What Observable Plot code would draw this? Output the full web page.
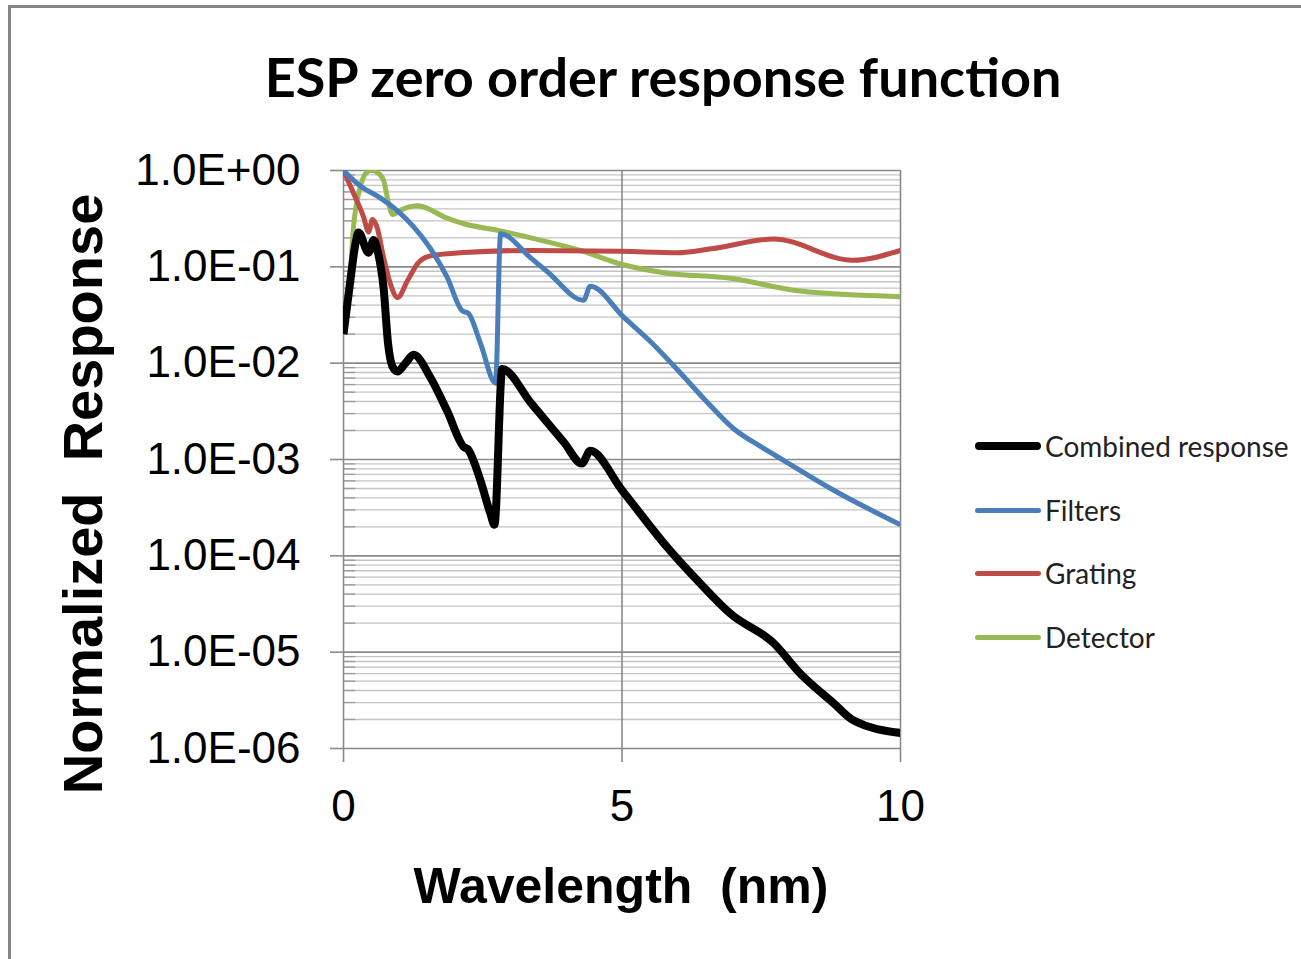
<!DOCTYPE html>
<html>
<head>
<meta charset="utf-8">
<script src="https://cdn.jsdelivr.net/npm/d3@7"></script>
<script src="https://cdn.jsdelivr.net/npm/@observablehq/plot@0.6"></script>
<style>
  html, body { margin: 0; padding: 0; background: #fff; }
  #wrap { position: relative; width: 1301px; height: 959px; overflow: hidden; background: #fff; }
  #frame { position: absolute; left: 8px; top: 5px; width: 1400px; height: 1100px; border: 3px solid #868686; box-sizing: border-box; }
  #title { position: absolute; left: 0; width: 1326px; top: 44px; text-align: center; font-family: Lato, "Open Sans", sans-serif; font-weight: bold; font-size: 54px; color: #000; white-space: nowrap; }
  #ylab { position: absolute; left: 82px; top: 494px; transform: translate(-50%, -50%) rotate(-90deg); font-family: "Liberation Sans", Arial, sans-serif; font-weight: bold; font-size: 56px; white-space: pre; color: #000; }
  #xlab { position: absolute; left: 621px; top: 886px; transform: translate(-50%, -50%); font-family: "Liberation Sans", Arial, sans-serif; font-weight: bold; font-size: 50px; white-space: pre; color: #000; }
  #chart { position: absolute; left: 0; top: 0; }
  #legend { position: absolute; left: 975px; top: 0; font-family: Lato, "Open Sans", sans-serif; font-size: 28px; color: #222; }
  .item { position: absolute; left: 0; display: flex; align-items: center; white-space: nowrap; transform: translateY(-50%); }
  .swatch { width: 66px; border-radius: 4px; margin-right: 4px; }
</style>
</head>
<body>
<div id="wrap">
  <div id="frame"></div>
  <div id="chart"></div>
  <div id="title">ESP zero order response function</div>
  <div id="ylab">Normalized  Response</div>
  <div id="xlab">Wavelength  (nm)</div>
  <div id="legend"></div>
</div>
<script>
// ---- data (wavelength nm, normalized response) ----
const seriesNames = ["Combined response", "Filters", "Grating", "Detector"];
const seriesColors = ["#000000", "#4a7ebb", "#be4b48", "#98b954"];
const seriesWidths = [8, 5, 5, 5];

const combined = [
  [0, 0.02], [0.12, 0.07], [0.22, 0.18], [0.27, 0.227], [0.45, 0.14], [0.54, 0.19],
  [0.62, 0.14], [0.72, 0.06], [0.8, 0.016], [0.88, 0.0092], [0.97, 0.0082],
  [1.1, 0.0098], [1.26, 0.0122], [1.56, 0.0071], [1.86, 0.0032], [2.16, 0.00135],
  [2.23, 0.00128], [2.46, 0.0006], [2.64, 0.00027], [2.71, 0.00021], [2.85, 0.0087],
  [3.36, 0.0039], [3.96, 0.0015], [4.28, 0.00091], [4.43, 0.00123], [5.0, 0.00048],
  [5.81, 0.000123], [6.41, 0.0000513], [6.95, 0.000025], [7.73, 0.0000123],
  [8.2, 0.000006], [8.8, 0.00000295], [9.16, 0.00000195], [10, 0.00000145]
];
const filters = [
  [0, 1.0], [0.3, 0.69], [0.66, 0.52], [0.97, 0.38], [1.26, 0.26], [1.56, 0.155],
  [1.86, 0.078], [2.13, 0.035], [2.24, 0.033], [2.46, 0.016], [2.73, 0.0062],
  [2.82, 0.22], [3.36, 0.124], [3.66, 0.089], [4.31, 0.045], [4.43, 0.063],
  [5.03, 0.03], [5.5, 0.017], [6.0, 0.0085], [6.5, 0.0041], [7.0, 0.0021],
  [7.5, 0.00135], [7.9, 0.00098], [8.8, 0.00048], [10, 0.00021]
];
const grating = [
  [0, 1.0], [0.18, 0.58], [0.36, 0.33], [0.45, 0.23], [0.52, 0.31], [0.6, 0.26],
  [0.72, 0.125], [0.84, 0.067], [0.97, 0.048], [1.15, 0.072], [1.33, 0.108],
  [1.56, 0.13], [2.16, 0.141], [3.36, 0.148], [5.0, 0.145], [6.0, 0.14],
  [6.64, 0.155], [7.72, 0.195], [9.14, 0.117], [10, 0.148]
];
const detector = [
  [0, 0.02], [0.1, 0.053], [0.18, 0.26], [0.3, 0.67], [0.42, 0.96], [0.5, 1.0],
  [0.6, 0.96], [0.72, 0.79], [0.81, 0.45], [0.88, 0.35], [1.08, 0.4], [1.33, 0.43],
  [1.86, 0.32], [2.16, 0.28], [2.76, 0.24], [3.36, 0.2], [4.25, 0.148],
  [4.97, 0.107], [5.75, 0.087], [6.95, 0.076], [8.2, 0.056], [10, 0.049]
];
const xTicks = [0, 5, 10];
const yMajor = [1, 1e-1, 1e-2, 1e-3, 1e-4, 1e-5, 1e-6];

// ---- build ----
const allSeries = [combined, filters, grating, detector];
const rows = allSeries.flatMap((s, i) => s.map(([x, y]) => ({series: seriesNames[i], x, y})));
const yMinor = [];
for (let e = -6; e < 0; e++) for (let m = 2; m <= 9; m++) yMinor.push(m * Math.pow(10, e));
const fmt = d => { const e = Math.round(Math.log10(d)); return "1.0E" + (e >= 0 ? "+" : "-") + String(Math.abs(e)).padStart(2, "0"); };

const chart = Plot.plot({
  width: 1301, height: 959,
  marginLeft: 343, marginRight: 401, marginTop: 170, marginBottom: 211,
  style: {fontFamily: "'Liberation Sans', Arial, sans-serif", fontSize: "44px", color: "#000", background: "transparent", overflow: "visible"},
  x: {domain: [0, 10]},
  y: {type: "log", domain: [1e-6, 1]},
  color: {domain: seriesNames, range: seriesColors},
  marks: [
    Plot.ruleY(yMinor, {stroke: "#c4c4c4", strokeWidth: 1.3}),
    Plot.ruleY(yMinor, {x1: 0, x2: 0.22, stroke: "#9a9a9a", strokeWidth: 1.3}),
    Plot.ruleY(yMajor, {stroke: "#8a8a8a", strokeWidth: 1.6}),
    Plot.ruleX([5, 10], {stroke: "#8a8a8a", strokeWidth: 1.6}),
    Plot.ruleX([0], {stroke: "#8a8a8a", strokeWidth: 1.6}),
    Plot.axisY({ticks: yMajor, tickSize: 13, tickPadding: 30, tickFormat: fmt, label: null, stroke: "#8a8a8a", strokeWidth: 1.6, fill: "#000"}),
    Plot.axisX({ticks: xTicks, tickSize: 14, tickPadding: 27, tickFormat: d => String(d), label: null, stroke: "#8a8a8a", strokeWidth: 1.6, fill: "#000"}),
    ...seriesNames.slice().reverse().map((name) => {
      const i = seriesNames.indexOf(name);
      return Plot.line(rows.filter(r => r.series === name), {
        x: "x", y: "y", stroke: "series", strokeWidth: seriesWidths[i],
        curve: "monotone-x", clip: true, strokeLinejoin: "round", strokeLinecap: "butt"
      });
    })
  ]
});
document.getElementById("chart").appendChild(chart);

// legend
const legend = document.getElementById("legend");
const legendY = [446, 510, 573, 637];
seriesNames.forEach((name, i) => {
  const it = document.createElement("div");
  it.className = "item";
  it.style.top = legendY[i] + "px";
  const sw = document.createElement("div");
  sw.className = "swatch";
  sw.style.background = seriesColors[i];
  sw.style.height = (i === 0 ? 8 : 5) + "px";
  const tx = document.createElement("span");
  tx.textContent = name;
  it.appendChild(sw); it.appendChild(tx);
  legend.appendChild(it);
});
</script>
</body>
</html>
